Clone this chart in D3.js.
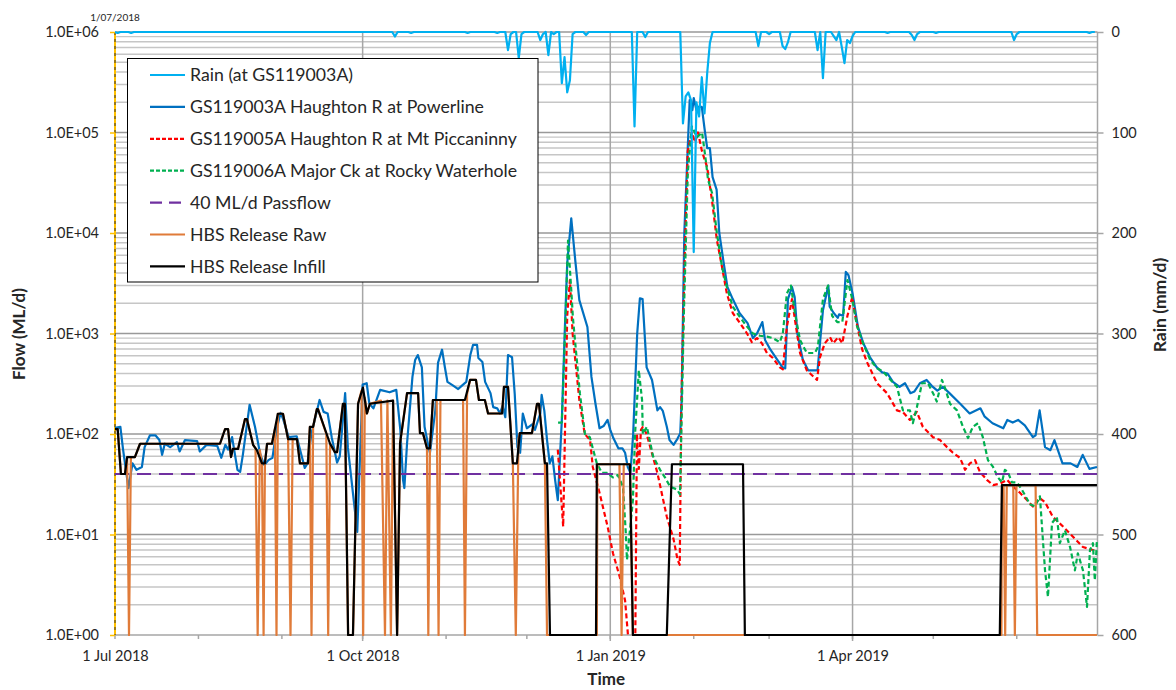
<!DOCTYPE html>
<html><head><meta charset="utf-8">
<script src="https://cdn.jsdelivr.net/npm/d3@7"></script>
<style>
body{margin:0;background:#fff}
svg{display:block}
text{font-family:Lato,"Open Sans",sans-serif;fill:#262626}
</style>
</head><body>
<svg id="c" width="1176" height="690"></svg>
<script>
// ---------------- DATA (day = days since 1 Jul 2018) ----------------
const flowTickValues = [1,10,100,1000,10000,100000,1000000];
const flowTickLabels = ["1.0E+00","1.0E+01","1.0E+02","1.0E+03","1.0E+04","1.0E+05","1.0E+06"];
const rainTickValues = [0,100,200,300,400,500,600];
const dateTicks = ["2018-07-01","2018-10-01","2019-01-01","2019-04-01"];
const dateTickLabels = ["1 Jul 2018","1 Oct 2018","1 Jan 2019","1 Apr 2019"];
const markerLabel = "1/07/2018";
const legendLabels = ["Rain (at GS119003A)","GS119003A Haughton R at Powerline","GS119005A Haughton R at Mt Piccaninny","GS119006A Major Ck at Rocky Waterhole","40 ML/d Passflow","HBS Release Raw","HBS Release Infill"];

const rainDay = [1,6,104,110,131,142,146,147,150,151,158,159,161,163,166,167,168,169,170,175,193,197,211,212,213,214,215,216,217,218,219,220,221,239,243,248,249,250,261,263,267,268,270,271,272,273,274,287,296,297,298,305,334,335,362];
const rainMm  = [1,1,4.5,1,1,1,18,2,26,2,8,2,23,2,51,25,60,48,2,3,94,5,91,64,60,68,219,70,84,45,81,41,11,14,2,14,17,10,18,46,4,8,15,31,8,11,4,1,3,8,2,1,8,2,1];

const gs003A = [[0,115],[2,118],[3,70],[5,29],[6.5,51],[8,44],[10,47],[11,74],[13,97],[15,97],[16.5,87],[17.5,62],[18.5,80],[20.5,74],[23,83],[24,67],[26,87],[30.5,85],[31.5,67],[34,78],[38,76],[39.5,58],[41,78],[42,70],[43.5,93],[45.5,44],[46.5,42],[47.5,62],[50,195],[52,118],[54,62],[55.5,49],[57,55],[58.5,58],[60,110],[61.5,162],[62.5,140],[64.5,93],[67.5,95],[68.5,74],[70.5,46],[71.5,51],[73,102],[76,218],[77.5,166],[79,160],[80.5,93],[82.5,52],[83.5,60],[85.5,255],[86.5,74],[90,10.6],[92,310],[93.5,320],[94.5,200],[96,180],[98.5,275],[102,260],[104.5,275],[106,110],[107,35],[107.5,29],[108.5,81],[110.5,370],[111.5,545],[112.5,610],[114,460],[115,118],[116.5,74],[117,65],[119,172],[120,510],[121.5,690],[122.5,470],[123.5,330],[125.5,305],[127.5,280],[129,305],[130.5,330],[132,610],[133,770],[134.5,770],[135,570],[136.5,520],[137.5,330],[139.5,255],[140.5,185],[142,180],[143,160],[144,190],[145,147],[146,610],[147.5,580],[148.5,250],[149.5,74],[150.5,65],[151.5,160],[153,114],[155,125],[156,110],[158,160],[158.5,245],[159.5,170],[160.5,87],[161.5,51],[162.5,60],[163.5,35],[164.5,22],[166,138],[167,900],[168,5000],[169.5,14000],[171,5300],[172.5,2150],[175.5,1160],[177,370],[178.5,200],[180,114],[181.5,120],[183,138],[184,110],[185,93],[187,72],[188.5,72],[189.5,65],[190.5,47],[191.5,41],[192.5,100],[194,1000],[195,2240],[196,2200],[197.5,460],[199.5,345],[201.5,172],[202.5,185],[203.5,170],[205,118],[206,87],[207.5,78],[209,90],[210,102],[210.5,215],[211.5,10000],[213,99000],[213.5,210000],[214.5,167000],[215,220000],[216,167000],[216.5,180000],[218,180000],[219,110000],[220,70000],[221,70000],[222,36000],[223.5,27000],[224.5,10000],[226,5300],[227.5,2900],[229.5,2200],[232,1600],[235,1270],[237,900],[238.5,1000],[240.5,1300],[241.5,860],[243.5,690],[246,550],[248,460],[249,450],[250,2200],[251.5,2900],[252.5,2300],[253.5,1000],[255.5,550],[257.5,430],[261,430],[262,860],[263,1700],[265,3000],[265.5,1850],[267,1600],[268.5,1430],[269,1550],[270.5,1500],[271.5,4100],[272.5,3800],[274,2500],[276,1170],[278,800],[280.5,580],[283,460],[285,410],[287,400],[289,330],[291.5,295],[293.5,320],[295.5,255],[297,265],[299,320],[301.5,345],[303.5,300],[305.5,270],[307.5,295],[310,255],[314,200],[317.5,160],[321.5,180],[323,150],[326,128],[330,114],[331.5,138],[333.5,130],[335.5,138],[338,122],[341,93],[342,97],[343.5,172],[345.5,74],[347.5,69],[349,87],[352,51],[355,51],[357.5,47],[359.5,62],[362,45],[364.8,47]];

const gs005A = [[164.5,70],[166.5,12],[168,1500],[169,3400],[170,1000],[172.5,218],[174.5,100],[176.5,87],[177.5,47],[180,26],[183,12],[185,6.5],[187.5,3.8],[189.5,2.2],[190.5,1.05],[191.5,0.5],[193,0.5],[193.3,1],[193.9,100],[194.6,45],[195.4,110],[196.1,118],[197.5,100],[201.5,41],[205,15],[207.5,9],[209,5.6],[209.8,5],[210.4,200],[211.7,6700],[212.8,66000],[214.3,100000],[215.5,80000],[216.6,100000],[218,66000],[220,45000],[221.8,21000],[223.6,8500],[225.5,4600],[227.3,2500],[229.5,1600],[232.2,1270],[234.8,1000],[236.6,820],[238.5,900],[240.3,800],[242.2,640],[244.4,570],[247,460],[248.1,440],[249.6,1170],[251.5,2200],[252.6,1370],[254.5,640],[257,430],[260.8,345],[261.9,580],[263.7,800],[265.6,920],[266.8,800],[268.7,920],[270.2,800],[272.1,1500],[273.9,2300],[275,1500],[277.6,690],[279.5,510],[283.1,320],[286.8,255],[290.5,172],[292.7,165],[295.3,138],[297.9,166],[300.1,118],[303.9,93],[306.5,87],[309.1,74],[311.3,65],[313.9,58],[315.8,44],[317.6,51],[319.5,55],[321.3,42],[323.9,35],[326.2,31],[328.7,32],[331.4,35],[333.6,30],[336.2,26],[338.8,22],[341,19],[343.6,23],[345.5,21],[348.4,15],[352.2,12],[355.9,9.5],[359.6,7.5],[363.3,7],[364.8,6.7]];

const gs006A = [[164.6,130],[166,130],[167.2,1000],[168.3,8400],[169.4,3000],[170.1,1450],[172.7,255],[174.6,100],[176.4,93],[179,51],[180.9,41],[182.8,41],[185,37],[186.8,39],[188.7,30],[189.8,10],[190.2,5.6],[191.3,11],[192.4,22],[193.2,100],[194.6,430],[195.8,218],[196.1,100],[197.6,118],[199.9,60],[202.5,44],[204.3,37],[206.2,30],[208.8,28],[209.9,25],[211.3,1450],[212.8,40000],[214.3,115000],[216.2,90000],[218.1,100000],[219.6,50000],[220.3,34000],[221.8,25000],[223.6,10000],[225.5,4600],[227.3,2900],[229.5,1850],[232.2,1450],[234.8,1170],[237,1000],[239.6,950],[242.2,930],[244.4,900],[247,820],[248.1,1000],[249.6,2500],[251.1,3000],[252.6,1600],[254.5,860],[257,640],[260,640],[261.1,730],[263,2200],[264.9,3000],[266.4,1500],[268.3,1300],[270.2,1300],[272.1,3400],[273.9,2200],[275.6,1200],[277.9,800],[280.5,550],[283.1,450],[285.3,420],[287.9,350],[290.5,295],[292.7,172],[295.3,172],[296.4,128],[297.9,185],[299.8,320],[302,320],[303.9,255],[305.3,210],[307.2,345],[308.3,290],[310.2,200],[312.8,172],[315,118],[316.9,91],[318.7,118],[320.6,128],[322.4,93],[324.3,55],[326.2,47],[328,37],[329.5,33],[330.6,44],[331.7,42],[333.2,33],[335.1,33],[336.9,28],[339.9,20],[341.8,19],[343.6,24],[345.5,4.4],[346.6,2.4],[348.1,13],[349.9,15],[351,8.2],[352.9,11],[354.8,7.5],[356.6,4.4],[357.7,6.5],[359.6,4.4],[361.1,1.9],[362.2,7],[363.3,8.2],[364,3.5],[364.8,8.8]];

const passflowDays = [0,365];
const passflowValue = 40;

const hbsInfill = [[0,112],[1,112],[2.2,40],[3.7,40],[4.5,59],[7.4,59],[9.3,80],[39,80],[40.9,112],[42,112],[43.1,59],[43.8,71],[45.7,71],[48.3,141],[49,141],[51.3,78],[52.7,69],[54.6,51],[55.7,51],[56.5,80],[58.3,80],[59.4,112],[60.5,159],[62.4,159],[64.3,89],[67.6,89],[68.7,51],[71.7,51],[72.4,118],[73.6,118],[75,177],[75.4,177],[79.9,80],[81.7,66],[82.5,66],[84.7,200],[85.4,200],[86.6,1],[88.4,1],[90.3,200],[92.1,290],[93.6,160],[94.7,200],[103.3,215],[104.8,1],[105.9,81],[108.5,255],[112.6,255],[113.3,102],[114.4,102],[115.9,72],[117,72],[118.1,218],[130,218],[131.9,345],[134.1,345],[135.2,218],[137.4,218],[138.6,160],[143.8,160],[144.5,295],[146,295],[147.8,51],[149.3,51],[150.4,102],[154.9,102],[156.8,200],[157.5,200],[159.7,51],[160.5,51],[161.6,1],[178.7,1],[179,50],[191.3,50],[192.4,1],[205,1],[206.9,50],[233.3,50],[234,1],[328.7,1],[329.5,31],[364.8,31]];

const hbsRaw = [[0,112],[1,112],[2.2,40],[3.7,40],[4.5,59],[5.2,1],[5.9,59],[7.4,59],[9.3,80],[39,80],[40.9,112],[42,112],[43.1,59],[43.8,71],[45.7,71],[48.3,141],[49,141],[51.3,78],[52.2,72],[53,1],[53.8,69],[54.6,51],[55.2,1],[55.7,51],[56.5,80],[58.3,80],[59.4,112],[60,1],[60.5,159],[62.4,159],[64.3,89],[65.2,1],[66,89],[67.6,89],[68.7,51],[71.7,51],[72.4,118],[73,1],[73.6,118],[75,177],[75.4,177],[78.5,100],[79.2,1],[79.9,80],[81.7,66],[82.5,66],[84.7,200],[85.4,200],[86.6,1],[88.4,1],[90.3,200],[91.6,270],[92.2,1],[92.8,230],[93.6,160],[94.7,200],[98.8,215],[100.3,1],[101.2,215],[102.5,1],[103.3,215],[104.8,1],[105.9,81],[108.5,255],[112.6,255],[113.3,102],[114.4,102],[115.9,72],[116.4,1],[117,72],[118.1,218],[119.5,218],[120.2,1],[120.9,218],[129.3,218],[130,1],[130.8,250],[131.9,345],[134.1,345],[135.2,218],[137.4,218],[138.6,160],[143.8,160],[144.5,295],[146,295],[147.8,51],[148.9,1],[149.9,90],[150.4,102],[154.9,102],[156.8,200],[157.5,200],[159.7,51],[160.5,1],[179,1],[179.2,50],[187.4,50],[188.2,1],[189,50],[191.3,50],[192.4,1],[329.3,1],[329.5,31],[330.1,31],[330.7,1],[331.3,31],[333.7,31],[334.3,1],[334.9,31],[342,31],[342.6,1],[364.8,1]];

// ---------------- CHART ----------------
const svg = d3.select("#c");
const L = 115, R = 1097.5, T = 32, B = 635;
const t0 = new Date(2018, 6, 1), t1 = new Date(2019, 6, 1);
const toDate = d => new Date(t0.getTime() + d * 864e5);
const x = d3.scaleTime().domain([t0, t1]).range([L, R]);
const y = d3.scaleLog().domain([1, 1e6]).range([B, T]);
const yr = d3.scaleLinear().domain([0, 600]).range([T, B]);

svg.append("defs").append("clipPath").attr("id","clip")
  .append("rect").attr("x", L).attr("y", T - 6).attr("width", R - L + 1).attr("height", B - T + 7);

// horizontal gridlines
const minorVals = [];
for (let k = 0; k < 6; k++) for (let m = 2; m <= 9; m++) minorVals.push(m * Math.pow(10, k));
const grid = svg.append("g");
grid.selectAll("line.mn").data(minorVals).join("line")
  .attr("x1", L).attr("x2", R).attr("y1", d => y(d)).attr("y2", d => y(d))
  .attr("stroke", "#c6c6c6").attr("stroke-width", 1.4);
grid.selectAll("line.mj").data(flowTickValues.slice(1)).join("line")
  .attr("x1", L).attr("x2", R).attr("y1", d => y(d)).attr("y2", d => y(d))
  .attr("stroke", "#999").attr("stroke-width", 1.4);
// vertical gridlines at quarters
const qDates = dateTicks.map(s => new Date(s + "T00:00:00"));
grid.selectAll("line.v").data(qDates.slice(1)).join("line")
  .attr("x1", d => x(d)).attr("x2", d => x(d)).attr("y1", T).attr("y2", B + 6)
  .attr("stroke", "#a6a6a6").attr("stroke-width", 1.5);

// bottom axis line + month ticks
svg.append("line").attr("x1", L).attr("x2", R).attr("y1", B).attr("y2", B).attr("stroke", "#a6a6a6").attr("stroke-width", 1.5);
const months = d3.timeMonth.range(t0, t1);
svg.append("g").selectAll("line").data(months).join("line")
  .attr("x1", d => x(d)).attr("x2", d => x(d)).attr("y1", B).attr("y2", B + 4)
  .attr("stroke", "#a6a6a6").attr("stroke-width", 1.5);
const xAxis = d3.axisBottom(x).tickValues(qDates).tickFormat((d, i) => dateTickLabels[i]).tickSize(0).tickPadding(16);
const gx = svg.append("g").attr("transform", `translate(0,${B})`).call(xAxis);
gx.select(".domain").remove();
gx.selectAll("text").attr("font-size", "14.5px").attr("font-family", "Lato").attr("fill", "#262626");

// right axis
svg.append("line").attr("x1", R).attr("x2", R).attr("y1", T).attr("y2", B).attr("stroke", "#a6a6a6").attr("stroke-width", 1.5);
const rAxis = d3.axisRight(yr).tickValues(rainTickValues).tickSize(6).tickPadding(8);
const gr = svg.append("g").attr("transform", `translate(${R},0)`).call(rAxis);
gr.select(".domain").remove();
gr.selectAll("line").attr("stroke", "#a6a6a6").attr("stroke-width", 1.5);
gr.selectAll("text").attr("font-size", "14.5px").attr("font-family", "Lato").attr("fill", "#262626");

// left axis (yellow marker line with dashes)
svg.append("line").attr("x1", L).attr("x2", L).attr("y1", T).attr("y2", B).attr("stroke", "#ffc000").attr("stroke-width", 2);
svg.append("line").attr("x1", L).attr("x2", L).attr("y1", T).attr("y2", B).attr("stroke", "#333").attr("stroke-width", 1).attr("stroke-dasharray", "3,4");
const lAxis = d3.axisLeft(y).tickValues(flowTickValues).tickFormat((d, i) => flowTickLabels[i]).tickSize(5).tickPadding(11);
const gl = svg.append("g").attr("transform", `translate(${L},0)`).call(lAxis);
gl.select(".domain").remove();
gl.selectAll("line").attr("stroke", "#ffc000").attr("stroke-width", 1.5);
gl.selectAll("text").attr("font-size", "14.5px").attr("font-family", "Lato").attr("fill", "#262626");
svg.append("text").attr("x", L).attr("y", 21).attr("text-anchor", "middle").attr("font-size", "10px").text(markerLabel);

// axis titles
svg.append("text").attr("x", (L + R) / 2).attr("y", 685).attr("text-anchor", "middle")
  .attr("font-weight", "bold").attr("font-size", "17px").text("Time");
svg.append("text").attr("transform", "translate(25,334) rotate(-90)").attr("text-anchor", "middle")
  .attr("font-weight", "bold").attr("font-size", "17px").text("Flow (ML/d)");
svg.append("text").attr("transform", "translate(1166,305) rotate(-90)").attr("text-anchor", "middle")
  .attr("font-weight", "bold").attr("font-size", "17.5px").text("Rain (mm/d)");

// series
const plot = svg.append("g").attr("clip-path", "url(#clip)");
const flowLine = d3.line().x(d => x(toDate(d[0]))).y(d => y(d[1]));
const rainLine = d3.line().x(d => x(toDate(d[0]))).y(d => yr(d[1]));
const rainMap = new Map(rainDay.map((d, i) => [d, rainMm[i]]));
const rainSeries = d3.range(0, 365).map(d => [d, rainMap.get(d) || 0]);
const passSeries = passflowDays.map(d => [d, passflowValue]);

const styles = [
  {data: gs003A, color: "#0070c0", dash: null, line: flowLine},
  {data: gs005A, color: "#ff0000", dash: "5,3", line: flowLine},
  {data: gs006A, color: "#00b050", dash: "5,3", line: flowLine},
  {data: passSeries, color: "#7030a0", dash: "14,8", line: flowLine},
  {data: hbsRaw, color: "#e07b39", dash: null, line: flowLine},
  {data: hbsInfill, color: "#000000", dash: null, line: flowLine},
  {data: rainSeries, color: "#00b0f0", dash: null, line: rainLine}
];
styles.forEach(s => {
  plot.append("path").datum(s.data).attr("d", s.line).attr("fill", "none")
    .attr("stroke", s.color).attr("stroke-width", 2.2).attr("stroke-linejoin", "round")
    .attr("stroke-dasharray", s.dash);
});

// legend
const lg = svg.append("g");
lg.append("rect").attr("x", 127.5).attr("y", 58.5).attr("width", 410.5).attr("height", 223.5)
  .attr("fill", "#fff").attr("stroke", "#000").attr("stroke-width", 1);
const legendOrder = [6, 0, 1, 2, 3, 4, 5];
legendLabels.forEach((lab, i) => {
  const s = styles[legendOrder[i]];
  const cy = 75 + i * 31.9;
  lg.append("line").attr("x1", 150).attr("x2", 185).attr("y1", cy).attr("y2", cy)
    .attr("stroke", s.color).attr("stroke-width", 2.2)
    .attr("stroke-dasharray", s.dash === "14,8" ? "12,7" : (s.dash ? "4,2" : null));
  lg.append("text").attr("x", 190).attr("y", cy).attr("dy", "0.35em").attr("font-size", "17.7px").text(lab);
});
</script>
</body></html>
